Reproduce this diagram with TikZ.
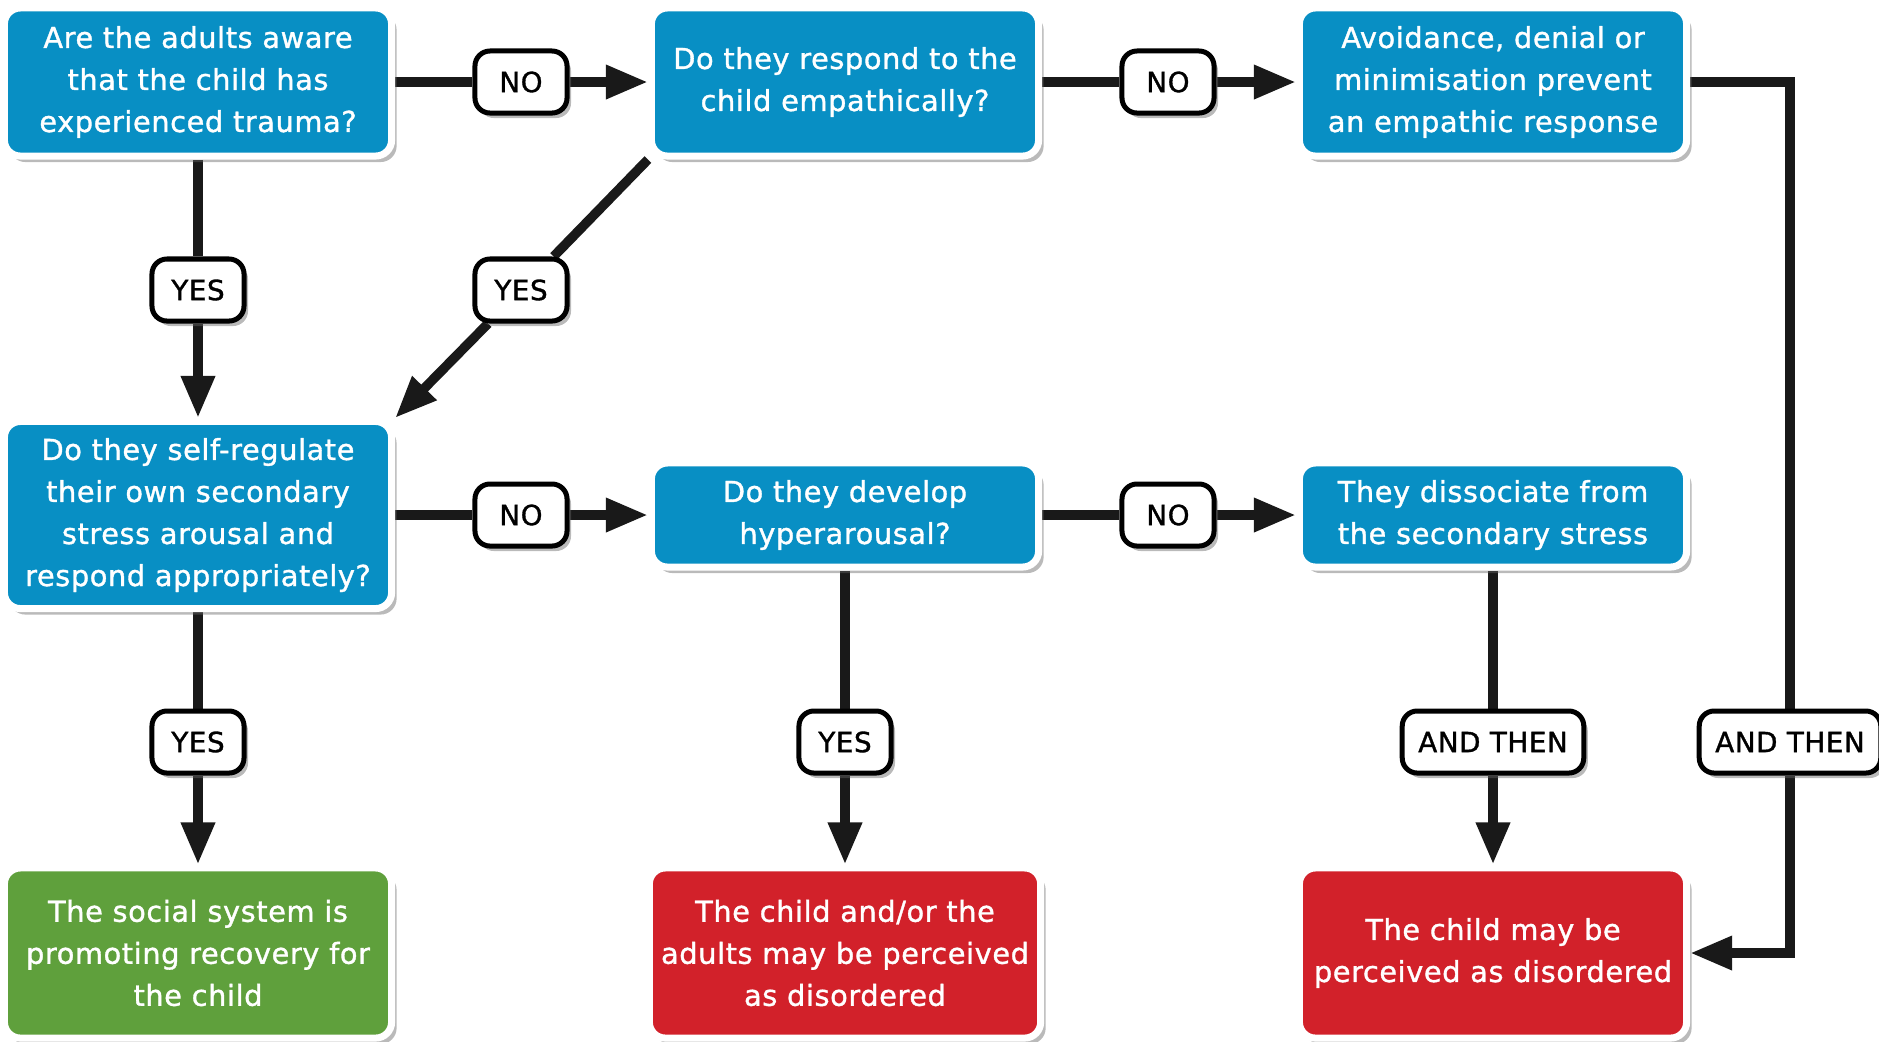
\documentclass[tikz,border=0pt]{standalone}
\usepackage{fontspec}
\setmainfont{DejaVu Sans}[LetterSpace=2,FakeBold=1.2]
\usetikzlibrary{arrows.meta,shadows,backgrounds}
\definecolor{askblue}{RGB}{8,143,196}
\definecolor{okgreen}{RGB}{95,160,60}
\definecolor{badred}{RGB}{210,33,42}

\begin{document}
\begin{tikzpicture}[x=0.01cm,y=-0.01cm,
    box/.style={rectangle,rounded corners=0.16cm,draw=white,line width=0.07cm,
                text=white,align=center,minimum width=3.87cm,
                font=\fontsize{8.2pt}{11.95pt}\selectfont,
                drop shadow={shadow xshift=0.05cm,shadow yshift=-0.06cm,
                             fill=black!60,opacity=0.45}},
    ask/.style={box,fill=askblue},
    good/.style={box,fill=okgreen},
    bad/.style={box,fill=badred},
    tag/.style={rectangle,rounded corners=0.15cm,draw=black,line width=0.05cm,
                fill=white,minimum width=0.92cm,minimum height=0.62cm,
                inner xsep=0.16cm,font=\fontsize{7.9pt}{9pt}\selectfont,
                drop shadow={shadow xshift=0.04cm,shadow yshift=-0.05cm,
                             fill=black!60,opacity=0.45}},
    link/.style={line width=0.095cm,draw=black!90},
    >={Triangle[length=0.42cm,width=0.32cm]}]
\useasboundingbox (0,0) rectangle (1879,1041);

% questions
\node[ask,minimum height=1.48cm] (aware) at (198,82) {Are the adults aware\\that the child has\\experienced trauma?};
\node[ask,minimum height=1.48cm] (respond) at (845,82) {Do they respond to the\\child empathically?};
\node[ask,minimum height=1.48cm] (avoid) at (1493,82) {Avoidance, denial or\\minimisation prevent\\an empathic response};
\node[ask,minimum height=1.87cm] (selfreg) at (198,515) {Do they self-regulate\\their own secondary\\stress arousal and\\respond appropriately?};
\node[ask,minimum height=1.04cm] (hyper) at (845,515) {Do they develop\\hyperarousal?};
\node[ask,minimum height=1.04cm] (dissoc) at (1493,515) {They dissociate from\\the secondary stress};

% outcomes
\node[good,minimum height=1.70cm] (recover) at (198,953) {The social system is\\promoting recovery for\\the child};
\node[bad,minimum height=1.70cm] (percboth) at (845,953) {The child and/or the\\adults may be perceived\\as disordered};
\node[bad,minimum height=1.70cm] (percchild) at (1493,953) {The child may be\\perceived as disordered};

% answers
\node[tag] (no1) at (521,82) {NO};
\node[tag] (no2) at (1168,82) {NO};
\node[tag] (yes1) at (198,290) {YES};
\node[tag] (yes2) at (521,290) {YES};
\node[tag] (no3) at (521,515) {NO};
\node[tag] (no4) at (1168,515) {NO};
\node[tag] (yes3) at (198,742) {YES};
\node[tag] (yes4) at (845,742) {YES};
\node[tag] (then1) at (1493,742) {AND THEN};
\node[tag] (then2) at (1790,742) {AND THEN};

\coordinate (turn1) at (1790,82);
\coordinate (turn2) at (1790,953);

\begin{scope}[on background layer]
\draw[link] (aware) -- (no1);
\draw[link,->] (no1) -- (respond);
\draw[link] (respond) -- (no2);
\draw[link,->] (no2) -- (avoid);
\draw[link] (aware) -- (yes1);
\draw[link,->] (yes1) -- (selfreg);
\draw[link] (respond.south west) -- (yes2);
\draw[link,->] (yes2) -- (selfreg.north east);
\draw[link] (selfreg) -- (no3);
\draw[link,->] (no3) -- (hyper);
\draw[link] (hyper) -- (no4);
\draw[link,->] (no4) -- (dissoc);
\draw[link] (selfreg) -- (yes3);
\draw[link,->] (yes3) -- (recover);
\draw[link] (hyper) -- (yes4);
\draw[link,->] (yes4) -- (percboth);
\draw[link] (dissoc) -- (then1);
\draw[link,->] (then1) -- (percchild);
\draw[link] (avoid.east) -- (turn1) -- (then2);
\draw[link,->] (then2) -- (turn2) -- (percchild);
\end{scope}

\end{tikzpicture}
\end{document}
